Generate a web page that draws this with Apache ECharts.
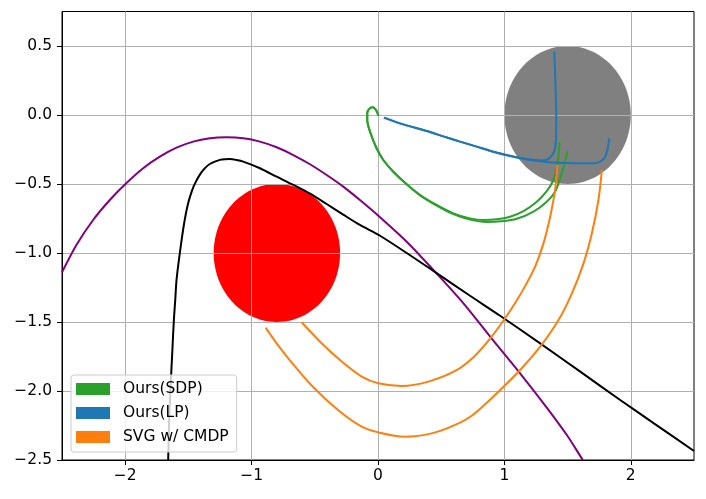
<!DOCTYPE html>
<html>
<head>
<meta charset="UTF-8">
<title>Trajectories</title>
<script type="text/javascript" src="https://cdn.jsdelivr.net/npm/echarts@6/dist/echarts.min.js"></script>
<style>html,body{margin:0;padding:0;background:#fff;}</style>
</head>
<body>
<div id="chartmain" style="width:706px;height:499px;"></div>
<script type="text/javascript">
// tick values
var xTicks = [-2, -1, 0, 1, 2];
var yTicks = [-2.5, -2, -1.5, -1, -0.5, 0, 0.5];

// obstacles: centre x, centre y, radius
var obstacles = [
	[-0.8, -1.0, 0.5],
	[1.5, 0.0, 0.5]
];
var obstacleColors = ['#ff0000', '#808080'];

// reference curves
var purpleCurve = [[-2.5,-1.14],[-2.386,-0.942],[-2.254,-0.761],[-2.122,-0.616],[-1.998,-0.5],[-1.858,-0.386],
	[-1.726,-0.302],[-1.594,-0.237],[-1.462,-0.193],[-1.33,-0.169],[-1.198,-0.162],[-1.066,-0.169],
	[-0.934,-0.193],[-0.802,-0.234],[-0.67,-0.29],[-0.538,-0.357],[-0.406,-0.435],[-0.275,-0.519],
	[-0.143,-0.616],[0.003,-0.73],[0.227,-0.918],[0.438,-1.123],[0.676,-1.365],[0.887,-1.606],
	[1.124,-1.872],[1.335,-2.12],[1.494,-2.319],[1.612,-2.488],[1.62,-2.5]];
var blackCurve = [[-1.66,-2.5],[-1.652,-2.21],[-1.641,-1.969],[-1.628,-1.727],[-1.615,-1.486],[-1.604,-1.34],
	[-1.594,-1.196],[-1.568,-1.002],[-1.536,-0.797],[-1.502,-0.64],[-1.462,-0.525],[-1.436,-0.475],
	[-1.409,-0.432],[-1.383,-0.4],[-1.357,-0.374],[-1.33,-0.355],[-1.291,-0.338],[-1.251,-0.325],
	[-1.212,-0.32],[-1.172,-0.319],[-1.119,-0.326],[-1.066,-0.338],[-0.934,-0.386],[-0.802,-0.447],
	[-0.67,-0.507],[-0.538,-0.57],[-0.406,-0.645],[-0.275,-0.722],[-0.143,-0.797],[0.016,-0.875],
	[0.227,-1.0],[0.438,-1.13],[0.728,-1.31],[0.966,-1.455],[1.283,-1.655],[1.6,-1.86],
	[1.916,-2.065],[2.2,-2.245],[2.5,-2.435]];

// Ours(SDP)
var sdpA = [[0.003,-0.005],[-0.016,0.036],[-0.042,0.056],[-0.071,0.043],[-0.085,0.012],[-0.085,-0.036],
	[-0.063,-0.121],[-0.011,-0.241],[0.042,-0.326],[0.121,-0.411],[0.227,-0.502],[0.333,-0.58],
	[0.464,-0.652],[0.596,-0.713],[0.728,-0.749],[0.834,-0.761],[0.94,-0.756],[1.045,-0.737],
	[1.151,-0.696],[1.256,-0.628],[1.335,-0.551],[1.388,-0.471],[1.42,-0.362],[1.436,-0.198]];
var sdpB = [[0.003,-0.005],[-0.016,0.036],[-0.042,0.056],[-0.071,0.043],[-0.085,0.012],[-0.085,-0.036],
	[-0.063,-0.121],[-0.011,-0.241],[0.042,-0.326],[0.121,-0.411],[0.227,-0.502],[0.333,-0.582],
	[0.464,-0.656],[0.596,-0.718],[0.728,-0.758],[0.86,-0.775],[0.98,-0.77],[1.098,-0.752],
	[1.23,-0.7],[1.335,-0.628],[1.401,-0.556],[1.441,-0.459],[1.473,-0.362],[1.499,-0.261]];

// Ours(LP)
var lpA = [[0.047,-0.019],[0.2,-0.068],[0.385,-0.116],[0.517,-0.155],[0.649,-0.193],[0.781,-0.229],
	[0.913,-0.266],[1.045,-0.295],[1.177,-0.319],[1.283,-0.329],[1.335,-0.324],[1.375,-0.295],
	[1.401,-0.241],[1.409,-0.145],[1.41,0.0],[1.409,0.06],[1.401,0.302],[1.394,0.459]];
var lpB = [[0.047,-0.019],[0.2,-0.068],[0.385,-0.116],[0.517,-0.155],[0.649,-0.193],[0.781,-0.229],
	[0.913,-0.266],[1.045,-0.297],[1.177,-0.322],[1.283,-0.335],[1.388,-0.345],[1.573,-0.35],
	[1.705,-0.35],[1.758,-0.338],[1.797,-0.302],[1.818,-0.241],[1.829,-0.169]];

// SVG w/ CMDP
var svgA = [[-0.604,-1.502],[-0.446,-1.654],[-0.287,-1.787],[-0.129,-1.896],[0.003,-1.944],[0.188,-1.964],
	[0.398,-1.932],[0.61,-1.855],[0.755,-1.755],[0.887,-1.62],[1.0,-1.48],[1.08,-1.37],[1.164,-1.24],
	[1.243,-1.099],[1.309,-0.93],[1.362,-0.737],[1.401,-0.543],[1.42,-0.362]];
var svgB = [[-0.889,-1.541],[-0.802,-1.655],[-0.71,-1.763],[-0.525,-1.96],[-0.314,-2.14],[-0.129,-2.259],
	[0.003,-2.3],[0.214,-2.331],[0.425,-2.307],[0.61,-2.246],[0.755,-2.17],[0.966,-1.993],[1.124,-1.848],
	[1.283,-1.679],[1.428,-1.486],[1.534,-1.292],[1.626,-1.075],[1.692,-0.857],[1.744,-0.616],[1.771,-0.399]];

var FONT = 'DejaVu Sans';
function minus(s) { return s.replace('-', '\u2212'); }

function curve(name, data, color) {
	return {
		name: name, type: 'line', data: data, smooth: 0.3,
		symbol: 'none', showSymbol: false, z: 3,
		lineStyle: { color: color, width: 2 },
		itemStyle: { color: color }
	};
}

var myChart = echarts.init(document.getElementById('chartmain'));
myChart.setOption({
	animation: false,
	grid: { left: 62, right: 12, top: 11.5, bottom: 39, show: true, borderColor: '#000', borderWidth: 1, backgroundColor: 'transparent' },
	legend: {
		orient: 'vertical', left: 71, top: 375,
		data: ['Ours(SDP)', 'Ours(LP)', 'SVG w/ CMDP'],
		icon: 'rect', itemWidth: 34, itemHeight: 12, itemGap: 8,
		padding: [6, 8, 7, 5],
		backgroundColor: 'rgba(255,255,255,0.8)', borderColor: '#cccccc', borderWidth: 1, borderRadius: 3,
		itemStyle: { borderWidth: 0 },
		textStyle: { fontFamily: FONT, fontSize: 15.5, color: '#000', lineHeight: 16, padding: [0, 0, 0, 8] }
	},
	xAxis: {
		type: 'value', min: -2.5, max: 2.5, z: 2,
		axisLine: { show: true, onZero: false, lineStyle: { color: '#000', width: 1 } },
		axisTick: { show: true, length: 5, customValues: xTicks, lineStyle: { color: '#000', width: 1 } },
		axisLabel: { customValues: xTicks, margin: 8, color: '#000', fontFamily: FONT, fontSize: 15.5,
			formatter: function (v) { return minus(String(v)); } },
		splitLine: { show: true, lineStyle: { color: '#b0b0b0', width: 1 } }
	},
	yAxis: {
		type: 'value', min: -2.5, max: 0.75, z: 2,
		axisLine: { show: true, onZero: false, lineStyle: { color: '#000', width: 1 } },
		axisTick: { show: true, length: 5, customValues: yTicks, lineStyle: { color: '#000', width: 1 } },
		axisLabel: { customValues: yTicks, margin: 10, color: '#000', fontFamily: FONT, fontSize: 15.5,
			formatter: function (v) { return minus(v.toFixed(1)); } },
		splitLine: { show: true, lineStyle: { color: '#b0b0b0', width: 1 } }
	},
	series: [
		{
			type: 'custom', z: 1, encode: { x: 0, y: 1 },
			data: obstacles.map(function (o, i) { return { value: o, itemStyle: { color: obstacleColors[i] } }; }),
			renderItem: function (params, api) {
				var cx = api.value(0), cy = api.value(1), r = api.value(2);
				var pts = [];
				for (var i = 0; i <= 96; i++) {
					var a = i / 96 * 2 * Math.PI;
					pts.push(api.coord([cx + r * Math.cos(a), cy + r * Math.sin(a)]));
				}
				return { type: 'polygon', shape: { points: pts }, style: { fill: api.visual('color') } };
			}
		},
		curve('purple', purpleCurve, '#800080'),
		curve('black', blackCurve, '#000000'),
		curve('Ours(SDP)', sdpA, '#2ca02c'),
		curve('Ours(SDP)', sdpB, '#2ca02c'),
		curve('Ours(LP)', lpA, '#1f77b4'),
		curve('Ours(LP)', lpB, '#1f77b4'),
		curve('SVG w/ CMDP', svgA, '#ff7f0e'),
		curve('SVG w/ CMDP', svgB, '#ff7f0e')
	]
});
</script>
</body>
</html>
